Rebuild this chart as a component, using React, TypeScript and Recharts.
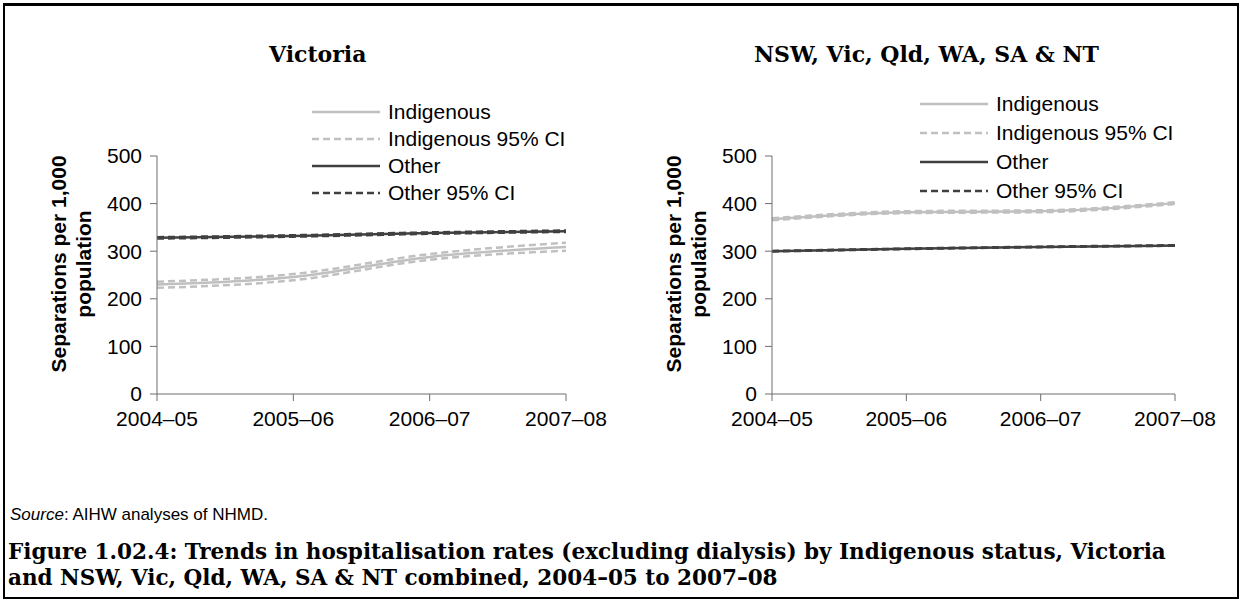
import React from 'react';
import { LineChart, Line, XAxis, YAxis, Legend } from 'recharts';

const categories = ['2004–05', '2005–06', '2006–07', '2007–08'];
const yTicks = [0, 100, 200, 300, 400, 500];

// Victoria
const vicIndigenous = [230, 246, 288, 309];
const vicIndigenousLower = [223, 239, 282, 301];
const vicIndigenousUpper = [236, 252, 294, 318];
const vicOther = [328, 332, 338, 342];
const vicOtherLower = [326, 330, 336, 340];
const vicOtherUpper = [330, 334, 340, 344];

// NSW, Vic, Qld, WA, SA & NT
const allIndigenous = [367, 382, 384, 401];
const allIndigenousLower = [365, 380, 382, 399];
const allIndigenousUpper = [369, 384, 386, 403];
const allOther = [300, 305, 309, 312];
const allOtherLower = [299, 304, 308, 311];
const allOtherUpper = [301, 306, 310, 313];

const SANS = 'Arial, "Liberation Sans", sans-serif';
const SERIF = '"Palatino Linotype", "Book Antiqua", "DejaVu Serif", serif';
const LIGHT = '#c0c0c0';
const DARK = '#404040';
const AXIS = '#6e6e6e';

const buildRows = (
  ind: number[],
  indLo: number[],
  indHi: number[],
  oth: number[],
  othLo: number[],
  othHi: number[]
) =>
  categories.map((name, i) => ({
    name,
    ind: ind[i],
    indLo: indLo[i],
    indHi: indHi[i],
    oth: oth[i],
    othLo: othLo[i],
    othHi: othHi[i],
  }));

const legendItems = [
  { label: 'Indigenous', color: LIGHT, dashed: false },
  { label: 'Indigenous 95% CI', color: LIGHT, dashed: true },
  { label: 'Other', color: DARK, dashed: false },
  { label: 'Other 95% CI', color: DARK, dashed: true },
];

const makeLegend = (rowHeight: number) => () => (
  <div style={{ fontFamily: SANS, fontSize: 21, color: '#000' }}>
    {legendItems.map((it) => (
      <div
        key={it.label}
        style={{ display: 'flex', alignItems: 'center', height: rowHeight }}
      >
        <svg width={68} height={4} style={{ marginRight: 8 }}>
          <line
            x1={0}
            y1={2}
            x2={68}
            y2={2}
            stroke={it.color}
            strokeWidth={2.5}
            strokeDasharray={it.dashed ? '7 4' : undefined}
          />
        </svg>
        <span style={{ whiteSpace: 'nowrap' }}>{it.label}</span>
      </div>
    ))}
  </div>
);

const makeYLabel = (x1: number, x2: number, cy: number) => () => (
  <g>
    <text
      x={x1}
      y={cy}
      transform={`rotate(-90, ${x1}, ${cy})`}
      textAnchor='middle'
      dominantBaseline='central'
      fontFamily={SANS}
      fontSize={21}
      fontWeight='bold'
      fill='#000'
    >
      Separations per 1,000
    </text>
    <text
      x={x2}
      y={cy}
      transform={`rotate(-90, ${x2}, ${cy})`}
      textAnchor='middle'
      dominantBaseline='central'
      fontFamily={SANS}
      fontSize={21}
      fontWeight='bold'
      fill='#000'
    >
      population
    </text>
  </g>
);

interface PanelProps {
  data: ReturnType<typeof buildRows>;
  width: number;
  margin: { top: number; right: number; bottom: number; left: number };
  legendPos: { left: number; top: number };
  rowHeight: number;
  yLabel: { x1: number; x2: number; cy: number };
}

const Panel: React.FC<PanelProps> = ({
  data,
  width,
  margin,
  legendPos,
  rowHeight,
  yLabel,
}) => (
  <LineChart width={width} height={450} data={data} margin={margin}>
    <XAxis
      dataKey='name'
      stroke={AXIS}
      tickSize={7}
      tick={{ fill: '#000', fontSize: 21, fontFamily: SANS }}
      tickMargin={10}
      height={40}
    />
    <YAxis
      domain={[0, 500]}
      ticks={yTicks}
      stroke={AXIS}
      tickSize={7}
      tickMargin={8}
      width={60}
      tick={{ fill: '#000', fontSize: 21, fontFamily: SANS }}
      label={{ content: makeYLabel(yLabel.x1, yLabel.x2, yLabel.cy) }}
    />
    <Legend
      layout='vertical'
      align='center'
      verticalAlign='middle'
      content={makeLegend(rowHeight)}
      wrapperStyle={{ left: legendPos.left, top: legendPos.top, width: 260 }}
    />
    <Line type='monotone' dataKey='indLo' stroke={LIGHT} strokeWidth={2.5} strokeDasharray='7 4' dot={false} isAnimationActive={false} />
    <Line type='monotone' dataKey='indHi' stroke={LIGHT} strokeWidth={2.5} strokeDasharray='7 4' dot={false} isAnimationActive={false} />
    <Line type='monotone' dataKey='ind' stroke={LIGHT} strokeWidth={2.5} dot={false} isAnimationActive={false} />
    <Line type='monotone' dataKey='othLo' stroke={DARK} strokeWidth={2} strokeDasharray='7 4' dot={false} isAnimationActive={false} />
    <Line type='monotone' dataKey='othHi' stroke={DARK} strokeWidth={2} strokeDasharray='7 4' dot={false} isAnimationActive={false} />
    <Line type='monotone' dataKey='oth' stroke={DARK} strokeWidth={2.5} dot={false} isAnimationActive={false} />
  </LineChart>
);

const vicData = buildRows(vicIndigenous, vicIndigenousLower, vicIndigenousUpper, vicOther, vicOtherLower, vicOtherUpper);
const allData = buildRows(allIndigenous, allIndigenousLower, allIndigenousUpper, allOther, allOtherLower, allOtherUpper);

const titleStyle: React.CSSProperties = {
  position: 'absolute',
  fontFamily: SERIF,
  fontWeight: 'bold',
  fontSize: 22,
  lineHeight: '30px',
  whiteSpace: 'nowrap',
  color: '#000',
};

export default function App() {
  return (
    <div
      style={{
        position: 'absolute',
        left: 0,
        top: 0,
        width: 1242,
        height: 601,
        background: '#fff',
        overflow: 'hidden',
      }}
    >
      <div
        style={{
          position: 'absolute',
          left: 3,
          top: 3,
          width: 1232,
          height: 591,
          border: '2px solid #000',
          borderTopWidth: 3,
        }}
      />
      <div style={{ position: 'absolute', left: 0, top: 0 }}>
        <Panel
          data={vicData}
          width={620}
          margin={{ top: 156, right: 54, bottom: 16, left: 97 }}
          legendPos={{ left: 312, top: 98 }}
          rowHeight={27}
          yLabel={{ x1: 58, x2: 83, cy: 264 }}
        />
      </div>
      <div style={{ position: 'absolute', left: 620, top: 0 }}>
        <Panel
          data={allData}
          width={622}
          margin={{ top: 156, right: 67, bottom: 16, left: 92 }}
          legendPos={{ left: 300, top: 89 }}
          rowHeight={29}
          yLabel={{ x1: 53, x2: 78, cy: 264 }}
        />
      </div>
      <div style={{ ...titleStyle, left: 269, top: 39 }}>Victoria</div>
      <div style={{ ...titleStyle, left: 754, top: 39 }}>NSW, Vic, Qld, WA, SA &amp; NT</div>
      <div
        style={{
          position: 'absolute',
          left: 10,
          top: 505,
          fontFamily: SANS,
          fontSize: 17,
          color: '#000',
          whiteSpace: 'nowrap',
        }}
      >
        <i>Source</i>: AIHW analyses of NHMD.
      </div>
      <div
        style={{
          position: 'absolute',
          left: 8,
          top: 539,
          width: 1220,
          fontFamily: SERIF,
          fontWeight: 'bold',
          fontSize: 21.5,
          lineHeight: '26px',
          color: '#000',
        }}
      >
        Figure 1.02.4: Trends in hospitalisation rates (excluding dialysis) by Indigenous status, Victoria
        <br />
        and NSW, Vic, Qld, WA, SA &amp; NT combined, 2004–05 to 2007–08
      </div>
    </div>
  );
}
